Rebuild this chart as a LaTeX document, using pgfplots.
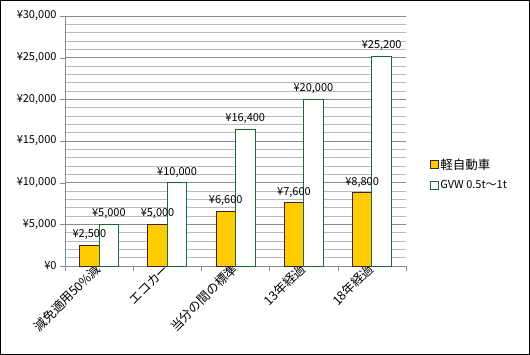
\documentclass[border=0pt]{standalone}
\usepackage{pgfplots}
\pgfplotsset{compat=1.18}
\usepackage{fontspec}
\setmainfont{Noto Sans CJK JP}
\definecolor{kyellow}{HTML}{FFCC00}
\definecolor{kborder}{HTML}{3F1F3F}
\definecolor{ggreen}{HTML}{1A6B32}
\begin{document}
\begin{tikzpicture}
\path[use as bounding box] (0,0) rectangle (530pt,355pt);
\draw[black, line width=1.2pt] (0.6pt,0.6pt) rectangle (529.4pt,354.4pt);
\begin{axis}[
  at={(65pt,89pt)}, anchor=south west,
  scale only axis, width=341pt, height=250pt,
  ybar=0pt, bar width=19.5pt,
  xmin=-0.5, xmax=4.5, ymin=0, ymax=30000,
  scaled y ticks=false,
  axis lines*=left,
  xtick pos=bottom, ytick pos=left,
  axis line style={draw=gray!90, -},
  xtick={-0.5,0.5,1.5,2.5,3.5,4.5},
  xticklabels={},
  extra x ticks={0,1,2,3,4},
  extra x tick labels={減免適用50\%減, エコカー, 当分の間の標準, 13年経過, 18年経過},
  extra x tick style={major tick length=0pt, tick label style={rotate=45, anchor=east, font=\fontsize{12.5}{13}\selectfont, inner sep=1pt}},
  major x tick style={draw=gray!90},
  ytick={0,5000,10000,15000,20000,25000,30000},
  yticklabels={¥0,{¥5,000},{¥10,000},{¥15,000},{¥20,000},{¥25,000},{¥30,000}},
  y tick label style={font=\fontsize{11}{12}\selectfont},
  tick align=outside, major tick length=5pt,
  major y tick style={draw=gray!90},
  minor y tick num=4, minor tick length=0pt,
  ymajorgrids, yminorgrids,
  major grid style={draw=gray!90, line width=0.8pt},
  minor grid style={draw=gray!55, line width=0.8pt},
  point meta=explicit symbolic,
  nodes near coords,
  every node near coord/.append style={font=\fontsize{11}{12}\selectfont, black, inner sep=2pt, yshift=3pt},
  legend style={draw=none, fill=none, at={(1.06,0.366)}, anchor=west,
    font=\fontsize{12.5}{13}\selectfont, row sep=6pt, legend cell align=left},
  legend image code/.code={\draw[#1] (0pt,-4pt) rectangle (8pt,4pt);},
  clip=false,
]
\addplot[fill=kyellow, draw=kborder, line width=0.8pt] coordinates {
 (0,2500) [¥2,500]
 (1,5000) [¥5,000]
 (2,6600) [¥6,600]
 (3,7600) [¥7,600]
 (4,8800) [¥8,800]
};
\addlegendentry{軽自動車}
\addplot[fill=white, draw=ggreen, line width=0.8pt] coordinates {
 (0,5000) [¥5,000]
 (1,10000) [¥10,000]
 (2,16400) [¥16,400]
 (3,20000) [¥20,000]
 (4,25200) [¥25,200]
};
\addlegendentry{{\fontsize{11}{12}\selectfont GVW 0.5t～1t}}
\draw[white, line width=1.6pt] ([xshift=0.8pt]rel axis cs:1,0.002) -- ([xshift=0.8pt]rel axis cs:1,1.01);
\end{axis}
\end{tikzpicture}
\end{document}
